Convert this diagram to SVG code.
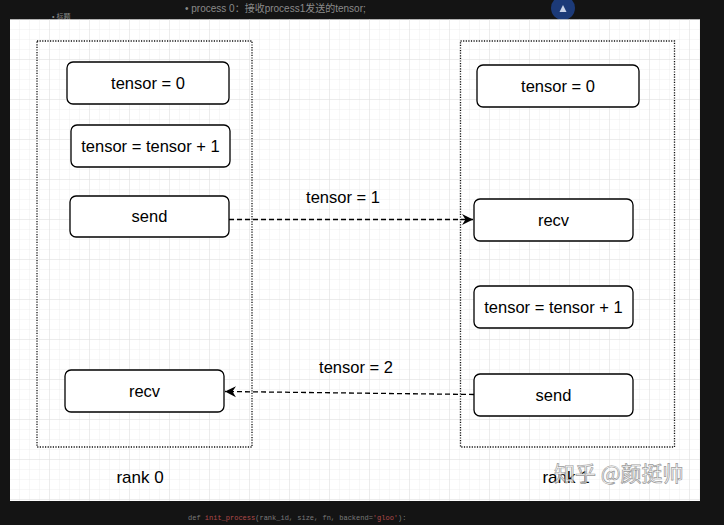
<svg xmlns="http://www.w3.org/2000/svg" width="724" height="525" viewBox="0 0 724 525">
<defs>
<style>
.node rect{fill:#fff;stroke:#000;stroke-width:1.3}
.node text,.lbl{font-family:"Liberation Sans",Arial,sans-serif;font-size:16.5px;fill:#000;text-anchor:middle}
.grp{fill:none;stroke:#111;stroke-width:1.3;stroke-dasharray:1.2 1.4}
.edge{fill:none;stroke:#000;stroke-width:1.3;stroke-dasharray:5 3}
.dim{font-family:"Liberation Sans","Noto Sans CJK SC",sans-serif;font-size:10px;fill:#8a8a8a}
.code{font-family:"Liberation Mono",monospace;font-size:7px;fill:#7a7a7a}
</style>
<pattern id="minor" width="10" height="10" patternUnits="userSpaceOnUse" x="10" y="20">
<path d="M10 0V10H0" fill="none" stroke="#eeeeee" stroke-width="1"/>
</pattern>
<pattern id="major" width="40" height="40" patternUnits="userSpaceOnUse" x="10" y="20">
<path d="M40 0V40H0" fill="none" stroke="#e0e0e0" stroke-width="1"/>
</pattern>
<marker id="ah" markerWidth="14" markerHeight="12" refX="11" refY="6" orient="auto" markerUnits="userSpaceOnUse">
<path d="M0 0.5L11 6L0 11.5L3.5 6Z" fill="#000"/>
</marker>
</defs>
<rect x="0" y="0" width="724" height="525" fill="#141414"/>
<text class="dim" x="185" y="12">•  process 0：接收process1发送的tensor;</text>
<text class="dim" x="52" y="19" style="font-size:7px">•  标题</text>
<circle cx="563" cy="8" r="12" fill="#1c3a78"/>
<path d="M559.5 12L563 5L566.5 12Z" fill="#c8d2e8"/>
<rect x="10" y="19.5" width="690" height="481.5" fill="#fff"/>
<rect x="10" y="19.5" width="690" height="481.5" fill="url(#minor)"/>
<rect x="10" y="19.5" width="690" height="481.5" fill="url(#major)"/>
<text class="code" x="188" y="520"><tspan>def </tspan><tspan fill="#b04a4a">init_process</tspan><tspan>(rank_id, size, fn, backend=</tspan><tspan fill="#b04a4a">'gloo'</tspan><tspan>):</tspan></text>

<g id="rank0">
<rect class="grp" x="37" y="41" width="215" height="406"/>
<text class="lbl" x="140" y="483" style="font-size:17px">rank 0</text>
</g>
<g id="rank1">
<rect class="grp" x="460.5" y="41" width="214" height="406"/>
<text class="lbl" x="566" y="483" style="font-size:17px">rank 1</text>
</g>

<g id="n0_t0" class="node"><rect x="67" y="62" width="162" height="42" rx="6"/><text x="148" y="89">tensor = 0</text></g>
<g id="n0_inc" class="node"><rect x="71" y="125" width="159" height="42" rx="6"/><text x="150.5" y="152">tensor = tensor + 1</text></g>
<g id="n0_send" class="node"><rect x="70" y="196" width="159" height="41" rx="6"/><text x="149.5" y="222">send</text></g>
<g id="n0_recv" class="node"><rect x="65" y="370" width="159" height="42" rx="6"/><text x="144.5" y="397">recv</text></g>

<g id="n1_t0" class="node"><rect x="477" y="65" width="162" height="42" rx="6"/><text x="558" y="92">tensor = 0</text></g>
<g id="n1_recv" class="node"><rect x="474" y="199" width="159" height="42" rx="6"/><text x="553.5" y="226">recv</text></g>
<g id="n1_inc" class="node"><rect x="474" y="286" width="159" height="42" rx="6"/><text x="553.5" y="313">tensor = tensor + 1</text></g>
<g id="n1_send" class="node"><rect x="474" y="374" width="159" height="42" rx="6"/><text x="553.5" y="401">send</text></g>

<g id="connectors">
<path class="edge" d="M229 219.5L473 219.5" marker-end="url(#ah)"/>
<text class="lbl" x="343" y="203">tensor = 1</text>
<path class="edge" d="M474 394.5L225 391.5" marker-end="url(#ah)"/>
<text class="lbl" x="356" y="373">tensor = 2</text>
</g>

<text x="554" y="481" style="font-family:'Noto Sans CJK SC','Liberation Sans',sans-serif;font-size:21px" fill="#ffffff" fill-opacity="0.75" stroke="#9a9a9a" stroke-width="0.7">知乎 @颜挺帅</text>
</svg>
